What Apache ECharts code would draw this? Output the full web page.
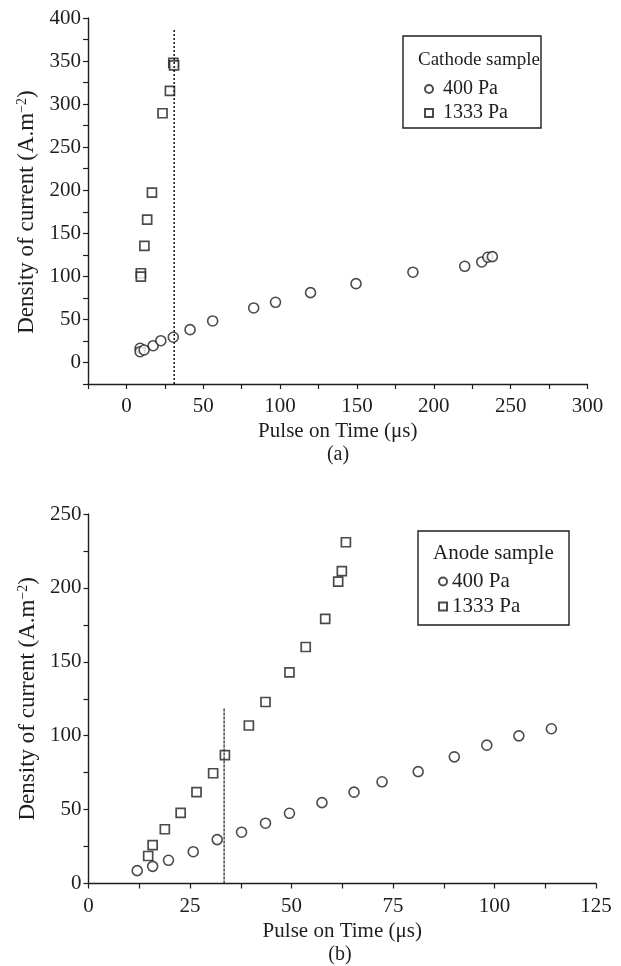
<!DOCTYPE html>
<html>
<head>
<meta charset="utf-8">
<script src="https://cdn.jsdelivr.net/npm/echarts@6/dist/echarts.min.js"></script>
<style>
html,body{margin:0;padding:0;background:#fff;}
#main{width:621px;height:966px;}
</style>
</head>
<body>
<div id="main"></div>
<script>
// ---- Data (a) Cathode sample ----
var cathode400 = [[8.9,16.5],[8.9,12.5],[11.5,14.5],[17.4,19.5],[22.4,25.3],[30.5,29.3],[41.4,38.1],[56.1,48.2],[82.8,63.3],[97,69.9],[119.8,81.1],[149.4,91.5],[186.4,104.8],[220.1,111.7],[231.2,116.7],[235.1,122.2],[238.1,122.9]];
var cathode1333 = [[9.4,103.6],[9.4,99.7],[11.7,135.3],[13.5,165.9],[16.6,197.2],[23.5,289.4],[28.3,315.3],[30.5,348],[31,345]];
var cathodeRefLine = [[31.1,-25],[31.1,387]];
// ---- Data (b) Anode sample ----
var anode400 = [[12,8.7],[15.8,11.6],[19.7,15.7],[25.8,21.5],[31.7,29.7],[37.7,34.7],[43.6,40.8],[49.5,47.5],[57.5,54.7],[65.4,61.8],[72.3,68.8],[81.2,75.7],[90.1,85.7],[98.1,93.6],[106,99.9],[114,104.7]];
var anode1333 = [[14.7,18.6],[15.8,25.9],[18.8,36.7],[22.7,47.8],[26.6,61.8],[30.7,74.6],[33.6,86.8],[39.5,106.9],[43.6,122.8],[49.5,142.8],[53.5,160],[58.3,179],[61.5,204.3],[62.4,211.3],[63.4,230.9]];
var anodeRefLine = [[33.4,0],[33.4,118.7]];
var seriesNames = ['400 Pa','1333 Pa'];
var xAxisTitle = 'Pulse on Time (μs)';
var yAxisTitle = 'Density of current (A.m{sup|−2})';

var FONT = 'Liberation Serif';
var INK = '#1e1e1e';

function axisCommon() {
  return {
    axisLine: {show: true, onZero: false, lineStyle: {color: INK, width: 1.4}},
    axisTick: {show: true, inside: false, length: 5, lineStyle: {color: INK, width: 1.2}},
    splitLine: {show: false},
    axisLabel: {color: INK, fontFamily: FONT, fontSize: 21}
  };
}
function nameStyle(size, pad) {
  return {color: INK, fontFamily: FONT, fontSize: size, padding: pad || 0,
    rich: {sup: {fontFamily: FONT, fontSize: 14, color: INK, verticalAlign: 'top', padding: [0,0,9,0]}}};
}
function merge(a, b) { for (var k in b) a[k] = b[k]; return a; }

var every50 = function (v) { return (Math.abs(v % 50) < 1e-6) ? String(v) : ''; };

var circleStyle = {color: '#fff', borderColor: INK, borderWidth: 1.6};
var rectStyle = {color: '#fff', borderColor: INK, borderWidth: 1.7};

var option = {
  animation: false,
  backgroundColor: '#fff',
  grid: [
    {left: 88, right: 33.5, top: 18, bottom: 582},
    {left: 88.5, right: 25, top: 514, bottom: 82.5}
  ],
  xAxis: [
    merge(axisCommon(), {gridIndex: 0, type: 'value', min: -25, max: 300, interval: 25,
      name: xAxisTitle, nameLocation: 'middle', nameGap: 37, nameTextStyle: nameStyle(21),
      axisLabel: merge(axisCommon().axisLabel, {formatter: every50, margin: 12})}),
    merge(axisCommon(), {gridIndex: 1, type: 'value', min: 0, max: 125, interval: 25,
      minorTick: {show: true, splitNumber: 2, length: 5, lineStyle: {color: INK, width: 1.2}},
      name: xAxisTitle, nameLocation: 'middle', nameGap: 37, nameTextStyle: nameStyle(21),
      axisLabel: merge(axisCommon().axisLabel, {margin: 12})})
  ],
  yAxis: [
    merge(axisCommon(), {gridIndex: 0, type: 'value', min: -25, max: 400, interval: 25,
      name: yAxisTitle, nameLocation: 'middle', nameGap: 46, nameTextStyle: nameStyle(23, [0, 22, 0, 0]),
      axisLabel: merge(axisCommon().axisLabel, {formatter: every50, margin: 7})}),
    merge(axisCommon(), {gridIndex: 1, type: 'value', min: 0, max: 250, interval: 50,
      minorTick: {show: true, splitNumber: 2, length: 5, lineStyle: {color: INK, width: 1.2}},
      name: yAxisTitle, nameLocation: 'middle', nameGap: 46, nameTextStyle: nameStyle(23),
      axisLabel: merge(axisCommon().axisLabel, {margin: 7})})
  ],
  legend: [
    {data: [{name: seriesNames[0], icon: 'circle'}, {name: seriesNames[1], icon: 'rect'}],
     orient: 'vertical', left: 419, top: 74, itemWidth: 8, itemHeight: 8, itemGap: 4,
     selectedMode: false,
     textStyle: {fontFamily: FONT, fontSize: 20, color: INK, padding: [0,0,0,5]}},
    {data: [{name: seriesNames[0] + ' ', icon: 'circle'}, {name: seriesNames[1] + ' ', icon: 'rect'}],
     orient: 'vertical', left: 433, top: 566, itemWidth: 8, itemHeight: 8, itemGap: 4,
     selectedMode: false,
     textStyle: {fontFamily: FONT, fontSize: 21, color: INK, padding: [0,0,0,0]}}
  ],
  graphic: [
    {type: 'rect', shape: {x: 403, y: 36, width: 138, height: 92}, style: {fill: 'none', stroke: INK, lineWidth: 1.4}},
    {type: 'text', x: 418, y: 60, style: {text: 'Cathode sample', font: '19px "Liberation Serif"', fill: INK, verticalAlign: 'middle'}},
    {type: 'rect', shape: {x: 418, y: 531, width: 151, height: 94}, style: {fill: 'none', stroke: INK, lineWidth: 1.4}},
    {type: 'text', x: 433, y: 553, style: {text: 'Anode sample', font: '21px "Liberation Serif"', fill: INK, verticalAlign: 'middle'}},
    {type: 'text', x: 338, y: 455, style: {text: '(a)', font: '20px "Liberation Serif"', fill: INK, align: 'center', verticalAlign: 'middle'}},
    {type: 'text', x: 340, y: 955, style: {text: '(b)', font: '20px "Liberation Serif"', fill: INK, align: 'center', verticalAlign: 'middle'}}
  ],
  series: [
    {name: seriesNames[0], type: 'scatter', xAxisIndex: 0, yAxisIndex: 0, data: cathode400, symbol: 'circle', symbolSize: 10, itemStyle: circleStyle},
    {name: seriesNames[1], type: 'scatter', xAxisIndex: 0, yAxisIndex: 0, data: cathode1333, symbol: 'rect', symbolSize: 9, itemStyle: rectStyle},
    {name: 'ref-a', type: 'line', xAxisIndex: 0, yAxisIndex: 0, data: cathodeRefLine, symbol: 'none', lineStyle: {color: INK, width: 1.6, type: [2, 2]}},
    {name: seriesNames[0] + ' ', type: 'scatter', xAxisIndex: 1, yAxisIndex: 1, data: anode400, symbol: 'circle', symbolSize: 10, itemStyle: circleStyle},
    {name: seriesNames[1] + ' ', type: 'scatter', xAxisIndex: 1, yAxisIndex: 1, data: anode1333, symbol: 'rect', symbolSize: 9, itemStyle: rectStyle},
    {name: 'ref-b', type: 'line', xAxisIndex: 1, yAxisIndex: 1, data: anodeRefLine, symbol: 'none', lineStyle: {color: INK, width: 1.2, type: [3, 1]}}
  ]
};
var chart = echarts.init(document.getElementById('main'), null, {renderer: 'canvas'});
chart.setOption(option);
</script>
</body>
</html>
